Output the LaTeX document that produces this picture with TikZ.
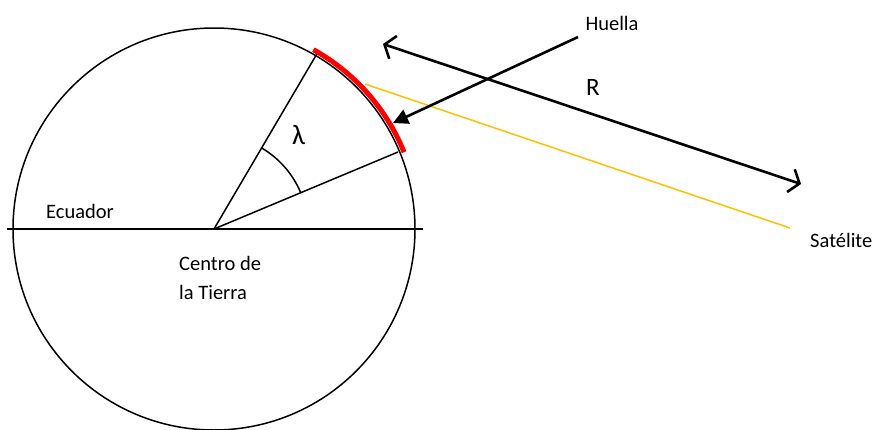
\documentclass[tikz,border=0pt]{standalone}
\usepackage{fontspec}
\setmainfont{Carlito}
\usetikzlibrary{arrows.meta}
\definecolor{satyellow}{HTML}{FFC000}
\tikzset{
  lbl/.style={inner sep=0pt, font=\fontsize{20.5}{24}\selectfont},
  thin line/.style={line width=1.5pt, black},
  bold arrow/.style={line width=2.6pt, black},
}
\begin{document}
\begin{tikzpicture}[x=1pt,y=1pt]
\useasboundingbox (0,0) rectangle (876,-429);
\coordinate (C) at (214,-229);
\coordinate (EqL) at (7,-229);
\coordinate (EqR) at (423,-229);
% circle
\draw[thin line] (C) circle[radius=201];
% equator
\draw[thin line] (EqL) -- (EqR);
% radii
\coordinate (U) at (318,-52);
\coordinate (L) at (398,-152);
\draw[thin line] (C) -- (U);
\draw[thin line] (C) -- (L);
% angle arc
\draw[thin line] ([shift={(C)}]59.6:94) arc[start angle=59.6, end angle=22.7, radius=94];
% footprint arc
\draw[red, line width=5pt] ([shift={(C)}]61:205) arc[start angle=61, end angle=22, radius=205];
% satellite line
\coordinate (Y1) at (365,-84);
\coordinate (Y2) at (790,-228);
\draw[satyellow, line width=1.5pt] (Y1) -- (Y2);
% Huella arrow
\coordinate (H1) at (578,-37);
\coordinate (H2) at (393,-123);
\draw[bold arrow, -{Triangle[length=15pt,width=15pt]}] (H1) -- (H2);
% R arrow
\coordinate (R1) at (383,-44);
\coordinate (R2) at (801,-184);
\draw[bold arrow, {Straight Barb[length=9pt,width=24pt]}-{Straight Barb[length=9pt,width=24pt]}] (R1) -- (R2);
% labels
\node[lbl] (ecuador) at (80,-211) {Ecuador};
\node[lbl, anchor=west] (centro) at (179,-263) {Centro de};
\node[lbl, anchor=west] (tierra) at (179,-292) {la Tierra};
\node[lbl] (huella) at (612,-23) {Huella};
\node[lbl, font=\fontsize{25}{30}\selectfont] (rlab) at (593,-87) {R};
\node[lbl, anchor=west] (sat) at (810,-240) {Satélite};
\node[lbl, font=\fontsize{28}{32}\selectfont] (lam) at (298.5,-135) {λ};
\end{tikzpicture}
\end{document}
